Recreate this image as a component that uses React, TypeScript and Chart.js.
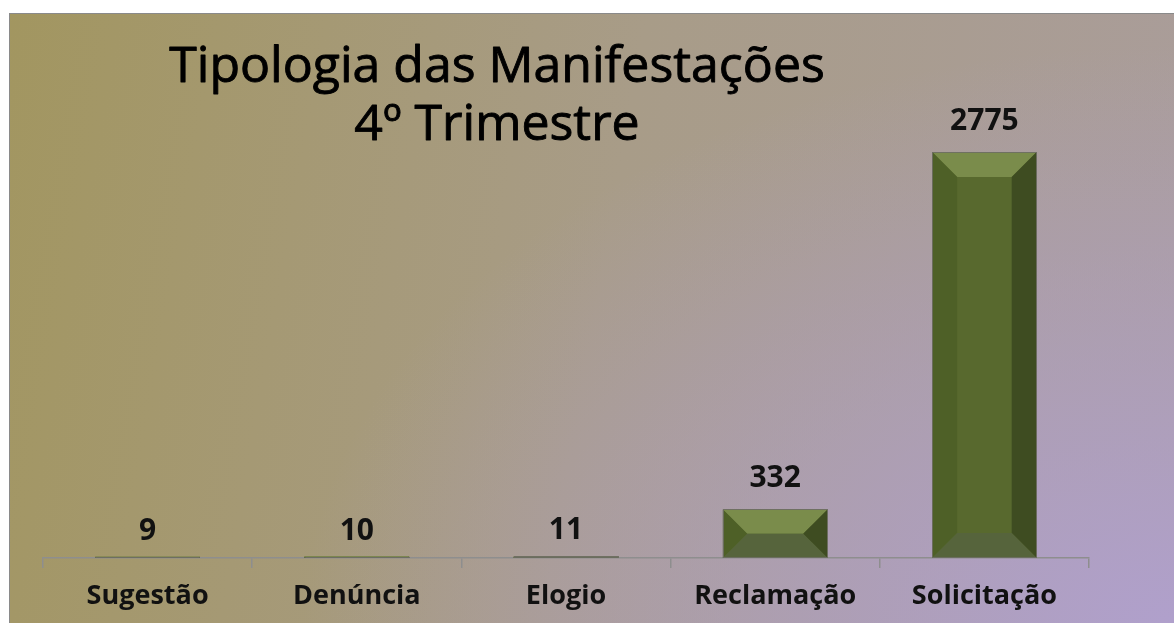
import React, { useEffect, useRef } from 'react';
import { Chart, registerables } from 'chart.js';

Chart.register(...registerables);

const categories = ['Sugestão', 'Denúncia', 'Elogio', 'Reclamação', 'Solicitação'];
const values = [9, 10, 11, 332, 2775];
const titleLines = ['Tipologia das Manifestações', '4º Trimestre'];
const yMax = 3000;

const FONT = "'Open Sans', 'DejaVu Sans', sans-serif";

const bevelPlugin = {
  id: 'bevelBars',
  afterDatasetsDraw(chart: any) {
    const ctx = chart.ctx;
    const meta = chart.getDatasetMeta(0);
    meta.data.forEach((bar: any, i: number) => {
      const { x, y, base, width } = bar.getProps(['x', 'y', 'base', 'width'], true);
      const left = x - width / 2;
      const right = x + width / 2;
      const top = Math.min(y, base);
      const bottom = Math.max(y, base);
      const h = bottom - top;
      const b = Math.min(25, h / 2, width / 2);
      ctx.save();
      const poly = (pts: number[][], color: string) => {
        ctx.beginPath();
        ctx.moveTo(pts[0][0], pts[0][1]);
        for (let k = 1; k < pts.length; k++) ctx.lineTo(pts[k][0], pts[k][1]);
        ctx.closePath();
        ctx.fillStyle = color;
        ctx.fill();
      };
      poly([[left, top], [right, top], [right - b, top + b], [left + b, top + b]], '#7a8c4b');
      poly([[left, top], [left + b, top + b], [left + b, bottom - b], [left, bottom]], '#4e6027');
      poly([[right, top], [right, bottom], [right - b, bottom - b], [right - b, top + b]], '#3e4c21');
      poly([[left, bottom], [right, bottom], [right - b, bottom - b], [left + b, bottom - b]], '#56643c');
      ctx.strokeStyle = 'rgba(110,110,100,0.9)';
      ctx.lineWidth = 1;
      ctx.strokeRect(Math.round(left) + 0.5, Math.round(top) + 0.5, Math.round(width) - 1, Math.max(0, Math.round(h) - 1));
      // value label
      ctx.fillStyle = '#111111';
      ctx.font = `bold 30px ${FONT}`;
      ctx.textAlign = 'center';
      ctx.textBaseline = 'alphabetic';
      ctx.fillText(String(values[i]), x, top - (h < 20 ? 17 : 22));
      ctx.restore();
    });
  },
};

const titlePlugin = {
  id: 'overlayTitle',
  afterDraw(chart: any) {
    const ctx = chart.ctx;
    ctx.save();
    ctx.fillStyle = '#000000';
    ctx.strokeStyle = '#000000';
    ctx.lineWidth = 0.9;
    ctx.lineJoin = 'round';
    ctx.font = `50px ${FONT}`;
    ctx.textAlign = 'center';
    ctx.textBaseline = 'alphabetic';
    ctx.fillText(titleLines[0], 487, 68);
    ctx.strokeText(titleLines[0], 487, 68);
    ctx.fillText(titleLines[1], 487, 126);
    ctx.strokeText(titleLines[1], 487, 126);
    ctx.restore();
  },
};

export default function App() {
  const canvasRef = useRef<HTMLCanvasElement | null>(null);

  useEffect(() => {
    document.documentElement.style.overflow = 'hidden';
    document.body.style.overflow = 'hidden';
    const canvas = canvasRef.current;
    if (!canvas) return;
    const chart = new Chart(canvas, {
      type: 'bar',
      data: {
        labels: categories,
        datasets: [
          {
            data: values,
            backgroundColor: '#58692e',
            borderWidth: 0,
            categoryPercentage: 1,
            barPercentage: 0.5,
          },
        ],
      },
      options: {
        animation: false,
        responsive: false,
        devicePixelRatio: 1,
        layout: { padding: { top: 105, left: 33, right: 89, bottom: 0 } },
        plugins: {
          legend: { display: false },
          title: { display: false },
          tooltip: { enabled: false },
        },
        scales: {
          y: {
            display: false,
            min: 0,
            max: yMax,
          },
          x: {
            afterFit: (s: any) => {
              s.height = 69;
            },
            border: { display: true, color: '#8e8e8e', width: 1.5 },
            grid: {
              offset: true,
              drawOnChartArea: false,
              drawTicks: true,
              tickLength: 10,
              color: '#8e8e8e',
              lineWidth: 1.5,
            },
            ticks: {
              color: '#111111',
              font: { family: FONT, size: 27, weight: 'bold' },
              padding: 12,
              maxRotation: 0,
              autoSkip: false,
            },
          },
        },
      },
      plugins: [bevelPlugin, titlePlugin],
    });
    if ((document as any).fonts && (document as any).fonts.ready) {
      (document as any).fonts.ready.then(() => chart.draw());
    }
    return () => chart.destroy();
  }, []);

  return (
    <div
      style={{
        position: 'absolute',
        left: 9,
        top: 13,
        width: 1168,
        height: 613,
        border: '1px solid #8a8a8a',
        background:
          'radial-gradient(ellipse 75% 95% at 100% 100%, rgba(176,160,204,1) 0%, rgba(176,160,204,0.55) 45%, rgba(176,160,204,0) 100%), linear-gradient(100deg, #a29660 0%, #a89c88 50%, #aa9d9c 100%)',
      }}
    >
      <canvas ref={canvasRef} width={1168} height={613} style={{ display: 'block' }} />
    </div>
  );
}
